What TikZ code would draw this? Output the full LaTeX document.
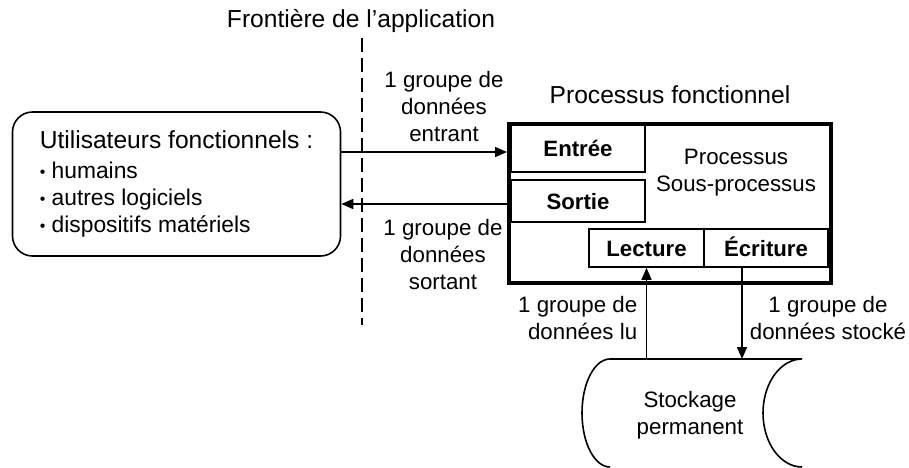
\documentclass[tikz,border=0pt]{standalone}
\usepackage{fontspec}
\setmainfont{Liberation Sans}
\usetikzlibrary{positioning, arrows.meta}
\newcommand{\puce}{\raisebox{0.5pt}{\scalebox{0.7}{•}}}
\tikzset{
    >={Triangle[length=6pt,width=5pt]},                          % filled arrow heads
    box/.style={draw, line width=0.8pt, inner sep=0pt},          % the small boxes in the process
    bbox/.style={box, text height=8pt, text depth=0pt, font=\bfseries\fontsize{11.1}{13.5}\selectfont},
    lbl/.style={inner sep=0pt, align=center, font=\fontsize{11.15}{13.5}\selectfont},
    ttl/.style={inner sep=0pt, font=\fontsize{12.3}{14}\selectfont},
}

\begin{document}
\begin{tikzpicture}[x=0.5pt, y=-0.5pt, line width=0.8pt]
\useasboundingbox (0,0) rectangle (909,467);

% frontiere
\node[ttl] (front) at (361,21) {Frontière de l’application};
\coordinate (fa) at (362,38);
\coordinate (fb) at (362,325);
\draw[dash pattern=on 7pt off 3pt] (fa) -- (fb);

% utilisateurs
\node[draw, rounded corners=10pt, minimum width=164pt, minimum height=72pt, align=left,
      font=\fontsize{11.4}{13.5}\selectfont] (util) at (176.5,184)
     {{\fontsize{12.3}{14}\selectfont Utilisateurs fonctionnels :}\\[1.5pt]
      \puce\ humains\\ \puce\ autres logiciels\\ \puce\ dispositifs matériels};

% processus
\node[draw, line width=2pt, minimum width=161pt, minimum height=79.5pt, inner sep=0pt] (proc) at (670,203.5) {};
\node[ttl, above=8.5pt of proc] (proctitle) {Processus fonctionnel};
\node[bbox, minimum width=67pt, minimum height=23.5pt] (entree) at (578,148.5) {Entrée};
\node[bbox, minimum width=67pt, minimum height=21pt] (sortie) at (578,201) {Sortie};
\node[bbox, minimum width=57.5pt, minimum height=19pt] (lecture) at (646.5,248) {Lecture};
\node[bbox, minimum width=62pt, minimum height=19pt] (ecriture) at (766,248) {Écriture};
\node[lbl] (sousproc) at (736,173) {Processus\\Sous-processus};

% stockage
\coordinate (stocknw) at (610,359);
\coordinate (stockne) at (802,359);
\draw (stocknw) -- (stockne)
  (stocknw) .. controls (594.5,359) and (582,383.2) .. (582,413) .. controls (582,442.8) and (594.5,467) .. (610,467)
  (stockne) .. controls (780.5,359) and (763,383.2) .. (763,413) .. controls (763,442.8) and (780.5,467) .. (802,467);
\node[lbl] (stock) at (690,415) {Stockage\\permanent};

% flux
\coordinate (inA) at ([yshift=16pt]util.east);
\coordinate (outA) at ([yshift=-10pt]util.east);
\coordinate (ecrA) at ([xshift=-12pt]ecriture.south);
\draw[->] (inA) -- (inA -| proc.west);
\draw[<-] (outA) -- (outA -| proc.west);
\draw[->] (lecture.south |- stocknw) -- (lecture.south);
\draw[->] (ecrA) -- (ecrA |- stocknw);

\node[lbl] (lblin) at (444,107) {1 groupe de\\données\\entrant};
\node[lbl] (lblout) at (443,255) {1 groupe de\\données\\sortant};
\node[lbl, align=right, anchor=east] (lbllu) at (638,318.5) {1 groupe de\\données lu};
\node[lbl] (lblst) at (828,318.5) {1 groupe de\\données stocké};

\end{tikzpicture}
\end{document}
